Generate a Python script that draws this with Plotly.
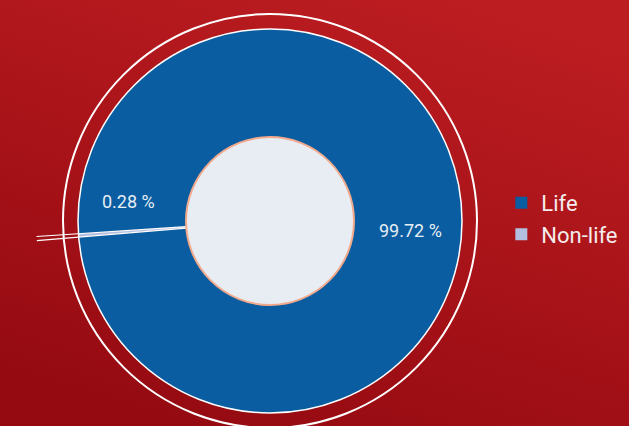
import base64, math
import plotly.graph_objects as go

# ---- data ----
labels = ["Non-life", "Life"]
values = [0.28, 99.72]
colors = ["#B3BEE0", "#0A5DA0"]
label_text = [f"{v:.2f} %" for v in values]

W, H = 629, 426
CX, CY = 270, 221          # pie centre (px, from top)
R_OUT, R_IN = 192, 84
R_RING = 207
ROT = 265.2

# background gradient as svg
svg = f'''<svg xmlns="http://www.w3.org/2000/svg" width="{W}" height="{H}">
<defs><linearGradient id="g" x1="0.75" y1="0" x2="0.3" y2="1">
<stop offset="0" stop-color="#BC1D21"/><stop offset="1" stop-color="#950A11"/></linearGradient></defs>
<rect width="{W}" height="{H}" fill="url(#g)"/></svg>'''
bg = "data:image/svg+xml;base64," + base64.b64encode(svg.encode()).decode()

def px_to_paper(x, y):
    return x / W, (H - y) / H

dx0, dy0 = px_to_paper(CX - R_OUT, CY + R_OUT)
dx1, dy1 = px_to_paper(CX + R_OUT, CY - R_OUT)

fig = go.Figure()
fig.add_trace(go.Pie(
    labels=labels, values=values, textinfo="none",
    marker=dict(colors=colors, line=dict(width=0)),
    hole=R_IN / R_OUT, sort=False, direction="clockwise", rotation=ROT,
    domain=dict(x=[dx0, dx1], y=[dy0, dy1]), showlegend=True,
))

def circle(r, **kw):
    x0, y0 = px_to_paper(CX - r, CY + r)
    x1, y1 = px_to_paper(CX + r, CY - r)
    return dict(type="circle", xref="paper", yref="paper", x0=x0, y0=y0, x1=x1, y1=y1,
                layer="above", **kw)

shapes = [circle(R_RING, line=dict(color="white", width=2)),
          circle(R_OUT, line=dict(color="white", width=1.5))]
# boundary lines of the small slice (derived from data), extended outward
tot = sum(values)
a_start = ROT
a_end = ROT + values[0] / tot * 360
for a in (a_start, a_end):
    rad = math.radians(a)
    xa, ya = CX + R_IN * math.sin(rad), CY - R_IN * math.cos(rad)
    xb, yb = CX + 234 * math.sin(rad), CY - 234 * math.cos(rad)
    p0 = px_to_paper(xa, ya); p1 = px_to_paper(xb, yb)
    shapes.append(dict(type="line", xref="paper", yref="paper", x0=p0[0], y0=p0[1],
                       x1=p1[0], y1=p1[1], line=dict(color="white", width=1.2), layer="above"))
shapes.append(circle(R_IN, fillcolor="#E8ECF3", line=dict(color="#F2A98C", width=2)))

lab_font = dict(family="Roboto", size=18, color="#E6EEF6")
a0 = px_to_paper(128, 201)
a1 = px_to_paper(410, 230)
fig.update_layout(
    width=W, height=H, margin=dict(l=0, r=0, t=0, b=0),
    paper_bgcolor="#AA141A", plot_bgcolor="rgba(0,0,0,0)",
    images=[dict(source=bg, xref="paper", yref="paper", x=0, y=1, sizex=1, sizey=1,
                 sizing="stretch", layer="below")],
    shapes=shapes,
    annotations=[
        dict(text=label_text[0], x=a0[0], y=a0[1], xref="paper", yref="paper",
             xanchor="center", yanchor="middle", showarrow=False, font=lab_font),
        dict(text=label_text[1], x=a1[0], y=a1[1], xref="paper", yref="paper",
             xanchor="center", yanchor="middle", showarrow=False, font=lab_font),
    ],
    legend=dict(x=0.797, y=0.573, xanchor="left", yanchor="top", traceorder="reversed",
                font=dict(family="Roboto", size=22, color="#F4ECEC"),
                bgcolor="rgba(0,0,0,0)"),
)
fig.write_html("out.html", config={"displayModeBar": False},
               post_script="document.body.style.margin='0';")
